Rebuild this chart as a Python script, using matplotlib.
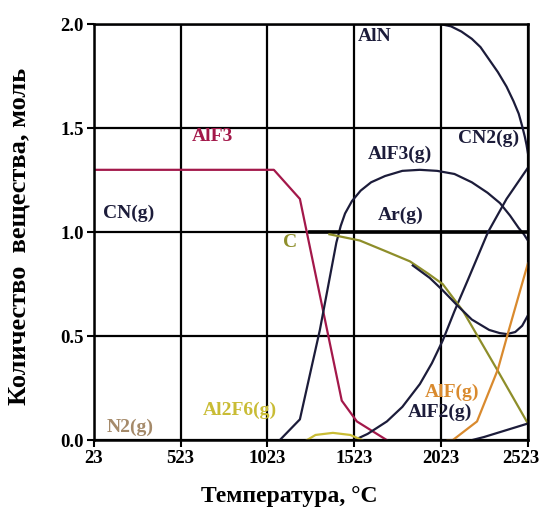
import matplotlib
matplotlib.use('Agg')
import matplotlib.pyplot as plt
import matplotlib.transforms as mtransforms

plt.rcParams['font.family'] = ['Liberation Serif', 'DejaVu Serif']
plt.rcParams['font.weight'] = 'bold'

# data (temperature, mol)
alf3_t = [23, 1023, 1060, 1210, 1451, 1538, 1711]
alf3_v = [1.30, 1.30, 1.30, 1.16, 0.19, 0.09, 0.0]

alf3g_t = [1094, 1210, 1325, 1420, 1445, 1470, 1510, 1560, 1620, 1700, 1800, 1900, 2000, 2100, 2200, 2290, 2362, 2420, 2470, 2500, 2515, 2523]
alf3g_v = [0.0, 0.10, 0.53, 0.95, 1.03, 1.09, 1.15, 1.20, 1.24, 1.27, 1.295, 1.30, 1.295, 1.28, 1.24, 1.19, 1.14, 1.08, 1.02, 0.99, 0.97, 0.96]

aln_t = [23, 2023, 2080, 2140, 2200, 2250, 2300, 2350, 2400, 2440, 2470, 2490, 2505, 2515, 2523]
aln_v = [2.0, 2.0, 1.99, 1.965, 1.93, 1.89, 1.83, 1.77, 1.70, 1.63, 1.57, 1.51, 1.46, 1.42, 1.38]

ar_t = [1267, 2523]
ar_v = [1.0, 1.0]

cn2_t = [1523, 1600, 1711, 1800, 1901, 1970, 2033, 2100, 2177, 2293, 2400, 2523]
cn2_v = [0.0, 0.03, 0.09, 0.16, 0.27, 0.37, 0.48, 0.62, 0.77, 1.00, 1.16, 1.31]

c_t = [1380, 1555, 1700, 1843, 1950, 2033, 2150, 2345, 2523]
c_v = [0.99, 0.96, 0.91, 0.86, 0.80, 0.75, 0.62, 0.34, 0.08]

dip_t = [1860, 1958, 2033, 2114, 2200, 2300, 2360, 2402, 2450, 2490, 2523]
dip_v = [0.84, 0.78, 0.72, 0.65, 0.58, 0.53, 0.515, 0.51, 0.52, 0.55, 0.60]

al2f6_t = [1250, 1300, 1400, 1500, 1570]
al2f6_v = [0.0, 0.025, 0.035, 0.025, 0.0]

alf_t = [2060, 2090, 2230, 2350, 2410, 2523]
alf_v = [0.0, 0.0, 0.09, 0.34, 0.52, 0.85]

alf2_t = [2200, 2270, 2523]
alf2_v = [0.0, 0.015, 0.08]

xticks = [23, 523, 1023, 1523, 2023, 2523]
yticks = [0.0, 0.5, 1.0, 1.5, 2.0]

dark = '#1c1c3a'
crimson = '#a3184a'
olive = '#8e8e2a'
yellow = '#c9bc35'
orange = '#d98a2e'
tan = '#a58a6a'

fig = plt.figure(figsize=(5.42, 5.16), dpi=100)
ax = fig.add_axes([0.173, 0.147, 0.801, 0.806])

ax.set_xlim(23, 2523)
ax.set_ylim(0, 2.0)
ax.set_xticks(xticks)
ax.set_yticks(yticks)
ax.set_yticklabels(['%.1f' % v for v in yticks])
ax.grid(True, color='black', linewidth=1.6)
ax.set_axisbelow(True)
for s in ax.spines.values():
    s.set_linewidth(1.8)
ax.tick_params(axis='both', labelsize=13.5, width=1.5, length=5, pad=2)
# nudge the last x tick label a bit left so it stays inside the figure
last = ax.get_xticklabels()[-1]
last.set_transform(last.get_transform() + mtransforms.ScaledTranslation(-7 / 100, 0, fig.dpi_scale_trans))

lw = 1.6
ax.plot(alf3_t, alf3_v, color=crimson, lw=lw)
ax.plot(alf3g_t, alf3g_v, color=dark, lw=lw)
ax.plot(aln_t, aln_v, color=dark, lw=lw)
ax.plot(ar_t, ar_v, color='black', lw=2.6)
ax.plot(cn2_t, cn2_v, color=dark, lw=lw)
ax.plot(c_t, c_v, color=olive, lw=lw)
ax.plot(dip_t, dip_v, color=dark, lw=lw)
ax.plot(al2f6_t, al2f6_v, color=yellow, lw=lw)
ax.plot(alf_t, alf_v, color=orange, lw=lw)
ax.plot(alf2_t, alf2_v, color=dark, lw=lw)

fs = 14
ax.text(1544, 1.92, 'AlN', color=dark, fontsize=fs)
ax.text(588, 1.44, 'AlF3', color=crimson, fontsize=fs)
ax.text(1601, 1.35, 'AlF3(g)', color=dark, fontsize=fs)
ax.text(2120, 1.43, 'CN2(g)', color=dark, fontsize=fs)
ax.text(75, 1.07, 'CN(g)', color=dark, fontsize=fs)
ax.text(1659, 1.06, 'Ar(g)', color=dark, fontsize=fs)
ax.text(1112, 0.93, 'C', color=olive, fontsize=fs)
ax.text(651, 0.12, 'Al2F6(g)', color=yellow, fontsize=fs)
ax.text(98, 0.04, 'N2(g)', color=tan, fontsize=fs)
ax.text(1930, 0.21, 'AlF(g)', color=orange, fontsize=fs)
ax.text(1832, 0.11, 'AlF2(g)', color=dark, fontsize=fs)

ax.set_xlabel('Температура, °C', fontsize=17, fontweight='bold')
ax.xaxis.set_label_coords(0.45, -0.11)
ax.set_ylabel('Количество  вещества, моль', fontsize=19, fontweight='bold')
ax.yaxis.set_label_coords(-0.145, 0.49)

plt.savefig('out.png', dpi=100)
